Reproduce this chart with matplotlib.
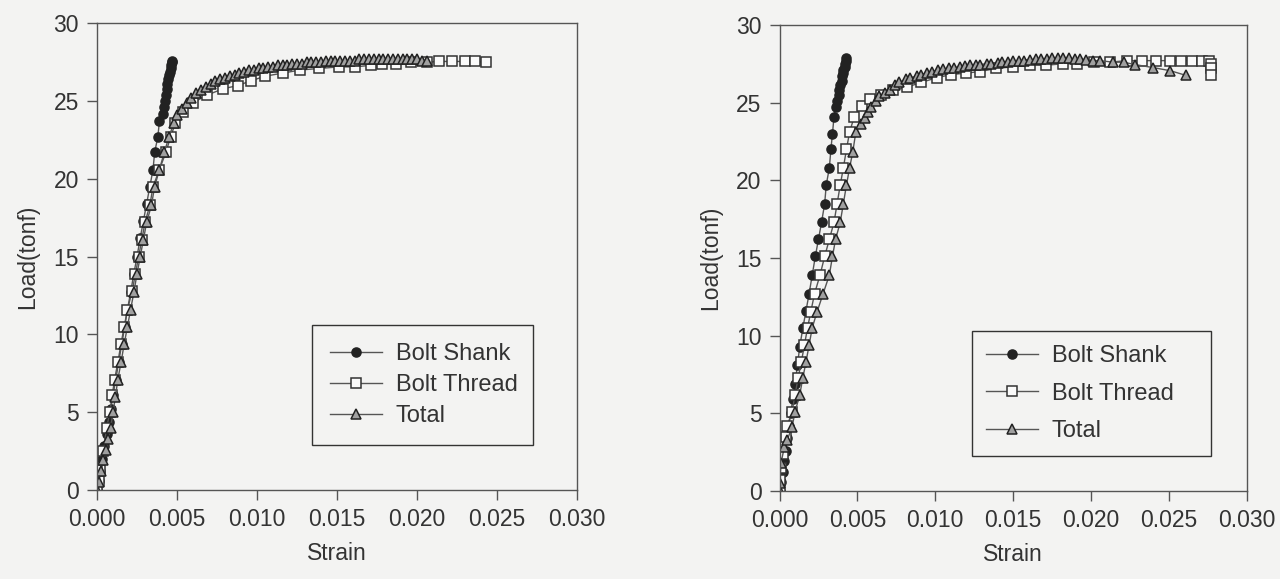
import matplotlib.pyplot as plt
from matplotlib.ticker import FormatStrFormatter


# -----------------------------
# DATA
# -----------------------------

# left panel
left_shank_strain = [0, 0.0001, 0.0002, 0.00033, 0.00046, 0.0006, 0.00073, 0.00086, 0.001, 0.00117,
                     0.00135, 0.00155, 0.00173, 0.0019, 0.0021, 0.0023, 0.0025, 0.0027, 0.0029, 0.0031,
                     0.0033, 0.0035, 0.0036, 0.0038, 0.0039, 0.0041, 0.0042, 0.00425, 0.0043, 0.00435,
                     0.0044, 0.00445, 0.0045, 0.00455, 0.0046, 0.00465, 0.0047, 0.0047]
left_shank_load = [0, 0.6, 1.2, 2.0, 2.8, 3.6, 4.4, 5.2, 6.1, 7.1,
                   8.2, 9.4, 10.5, 11.6, 12.7, 13.9, 15.0, 16.2, 17.3, 18.4,
                   19.5, 20.6, 21.7, 22.7, 23.7, 24.2, 24.6, 25.0, 25.4, 25.8,
                   26.1, 26.4, 26.7, 26.9, 27.1, 27.3, 27.5, 27.6]

left_thread_strain = [0, 0.0001, 0.0002, 0.0004, 0.0006, 0.0008, 0.00095, 0.0011, 0.0013, 0.0015,
                      0.0017, 0.0019, 0.0022, 0.0024, 0.0026, 0.0028, 0.003, 0.0033, 0.0035, 0.0039,
                      0.0043, 0.0046, 0.0049, 0.0054, 0.006, 0.0069, 0.0079, 0.0088, 0.0096, 0.0105,
                      0.0116, 0.0127, 0.0139, 0.0151, 0.0161, 0.0171, 0.0178, 0.0187, 0.0196, 0.0206,
                      0.0214, 0.0222, 0.023, 0.0236, 0.0243]
left_thread_load = [0, 0.6, 1.3, 2.5, 4.0, 5.0, 6.1, 7.1, 8.2, 9.4,
                    10.5, 11.6, 12.8, 13.9, 15.0, 16.1, 17.2, 18.3, 19.5, 20.6,
                    21.7, 22.7, 23.6, 24.3, 24.9, 25.4, 25.8, 26.0, 26.3, 26.6,
                    26.8, 27.0, 27.1, 27.2, 27.2, 27.3, 27.4, 27.4, 27.5, 27.5,
                    27.55, 27.55, 27.55, 27.55, 27.5]

left_total_strain = [0, 0.0001, 0.00025, 0.0004, 0.00055, 0.0007, 0.00085, 0.001, 0.00115, 0.0013,
                     0.0015, 0.0017, 0.0019, 0.0021, 0.0023, 0.0025, 0.0027, 0.0029, 0.0031, 0.0034,
                     0.0036, 0.0039, 0.0042, 0.0045, 0.0048, 0.005, 0.0053, 0.0056, 0.0059, 0.0062,
                     0.0065, 0.0068, 0.0071, 0.0074, 0.0077, 0.008, 0.0083, 0.0086, 0.0089, 0.0092,
                     0.0095, 0.0098, 0.0101, 0.0104, 0.0107, 0.011, 0.0113, 0.0116, 0.0119, 0.0122,
                     0.0125, 0.0128, 0.0131, 0.0134, 0.0137, 0.014, 0.0143, 0.0146, 0.0149, 0.0152,
                     0.0155, 0.0158, 0.0161, 0.0164, 0.0167, 0.017, 0.0173, 0.0176, 0.0179, 0.0182,
                     0.0185, 0.0188, 0.0191, 0.0194, 0.0197, 0.02, 0.0203, 0.0206]
left_total_load = [0, 0.5, 1.2, 1.9, 2.6, 3.3, 4.0, 5.0, 6.0, 7.1,
                   8.2, 9.4, 10.5, 11.6, 12.7, 13.9, 15.0, 16.1, 17.2, 18.3,
                   19.5, 20.6, 21.7, 22.7, 23.6, 24.1, 24.5, 24.9, 25.2, 25.5,
                   25.7, 25.9, 26.1, 26.3, 26.4, 26.5, 26.6, 26.7, 26.8, 26.9,
                   27.0, 27.0, 27.1, 27.1, 27.2, 27.2, 27.3, 27.3, 27.3, 27.4,
                   27.4, 27.4, 27.5, 27.5, 27.5, 27.5, 27.6, 27.6, 27.6, 27.6,
                   27.6, 27.6, 27.6, 27.7, 27.7, 27.7, 27.7, 27.7, 27.7, 27.7,
                   27.7, 27.7, 27.7, 27.7, 27.7, 27.7, 27.6, 27.6]

# right panel
right_shank_strain = [0, 0.0001, 0.0002, 0.0003, 0.0004, 0.0005, 0.0006, 0.00072, 0.00085, 0.001,
                      0.00115, 0.0013, 0.0015, 0.0017, 0.0019, 0.0021, 0.0023, 0.0025, 0.0027, 0.0029,
                      0.003, 0.0032, 0.0033, 0.0034, 0.0035, 0.0036, 0.0037, 0.0038, 0.0038, 0.0039,
                      0.004, 0.004, 0.0041, 0.0041, 0.0042, 0.0042, 0.0043, 0.0043]
right_shank_load = [0, 0.6, 1.2, 1.9, 2.6, 3.4, 4.2, 5.0, 5.9, 6.9,
                    8.1, 9.3, 10.5, 11.6, 12.7, 13.9, 15.1, 16.2, 17.3, 18.5,
                    19.7, 20.8, 22.0, 23.0, 24.1, 24.7, 25.1, 25.5, 25.8, 26.1,
                    26.4, 26.7, 26.9, 27.1, 27.3, 27.5, 27.7, 27.9]

right_thread_strain = [0, 0, 0.0001, 0.0002, 0.0004, 0.0005, 0.0008, 0.001, 0.0012, 0.0014,
                       0.0016, 0.0018, 0.002, 0.00225, 0.0026, 0.0029, 0.0032, 0.0035, 0.0037, 0.0039,
                       0.0041, 0.0043, 0.0045, 0.0048, 0.0053, 0.0058, 0.0065, 0.0073, 0.0082, 0.0091,
                       0.0101, 0.011, 0.012, 0.0129, 0.0139, 0.015, 0.0161, 0.0171, 0.0182, 0.0191,
                       0.0202, 0.0212, 0.0223, 0.0233, 0.0242, 0.0251, 0.0258, 0.0265, 0.0271, 0.0276,
                       0.0277, 0.0277, 0.0277]
right_thread_load = [0, 0.7, 1.5, 2.4, 3.5, 4.2, 5.1, 6.2, 7.3, 8.3,
                     9.4, 10.5, 11.5, 12.7, 13.9, 15.1, 16.2, 17.3, 18.5, 19.7,
                     20.8, 22.0, 23.1, 24.1, 24.8, 25.2, 25.5, 25.8, 26.0, 26.3,
                     26.6, 26.8, 26.9, 27.0, 27.2, 27.3, 27.4, 27.4, 27.5, 27.5,
                     27.6, 27.6, 27.7, 27.7, 27.7, 27.7, 27.7, 27.7, 27.7, 27.7,
                     27.5, 27.2, 26.8]

right_total_strain = [0, 0, 0.0001, 0.0003, 0.0005, 0.0008, 0.001, 0.0013, 0.0015, 0.0017,
                      0.0019, 0.0021, 0.0024, 0.0028, 0.0032, 0.0034, 0.0036, 0.0039, 0.0041, 0.0043,
                      0.0045, 0.0047, 0.0049, 0.0052, 0.0055, 0.0057, 0.0059, 0.0062, 0.0064, 0.0068,
                      0.0071, 0.0074, 0.0077, 0.0081, 0.0084, 0.0088, 0.0091, 0.0095, 0.0098, 0.0102,
                      0.0105, 0.0109, 0.0112, 0.0116, 0.0119, 0.0122, 0.0126, 0.0129, 0.0133, 0.0136,
                      0.014, 0.0143, 0.0147, 0.015, 0.0154, 0.0157, 0.0161, 0.0165, 0.0168, 0.0172,
                      0.0175, 0.0179, 0.0182, 0.0186, 0.019, 0.0193, 0.0197, 0.0201, 0.0206, 0.0214,
                      0.0221, 0.0228, 0.024, 0.0251, 0.0261]
right_total_load = [0, 0.5, 1.8, 2.8, 3.3, 4.1, 5.1, 6.2, 7.3, 8.3,
                    9.4, 10.5, 11.5, 12.7, 13.9, 15.1, 16.2, 17.3, 18.5, 19.7,
                    20.8, 21.8, 23.1, 23.6, 24.0, 24.4, 24.7, 25.1, 25.4, 25.6,
                    25.8, 26.1, 26.3, 26.5, 26.6, 26.7, 26.8, 26.9, 27.0, 27.1,
                    27.15, 27.2, 27.25, 27.3, 27.35, 27.4, 27.4, 27.45, 27.5, 27.5,
                    27.55, 27.6, 27.6, 27.65, 27.7, 27.7, 27.75, 27.8, 27.8, 27.8,
                    27.85, 27.85, 27.85, 27.85, 27.8, 27.8, 27.75, 27.7, 27.7, 27.6,
                    27.6, 27.45, 27.25, 27.05, 26.75]

series_labels = ["Bolt Shank", "Bolt Thread", "Total"]
x_ticks = [0.0, 0.005, 0.010, 0.015, 0.020, 0.025, 0.030]
y_ticks = [0, 5, 10, 15, 20, 25, 30]


# -----------------------------
# STYLE
# -----------------------------

plt.rcParams['font.family'] = ['Liberation Sans', 'DejaVu Sans']
plt.rcParams['font.size'] = 16.5

BG = '#f3f3f2'
INK = '#333333'

styles = [
    dict(marker='o', markersize=6.5, markerfacecolor='#222222', markeredgecolor='#222222'),
    dict(marker='s', markersize=6.5, markerfacecolor='#fafafa', markeredgecolor='#333333'),
    dict(marker='^', markersize=6.5, markerfacecolor='#a0a0a0', markeredgecolor='#222222'),
]


def draw_panel(ax, data, legend_box, spacing, pad):
    for (xs, ys), label, st in zip(data, series_labels, styles):
        ax.plot(xs, ys, color='#555555', linewidth=1.0, markeredgewidth=1.1,
                label=label, **st)

    ax.set_xlim(0, 0.030)
    ax.set_ylim(0, 30)
    ax.set_xticks(x_ticks)
    ax.set_yticks(y_ticks)
    ax.xaxis.set_major_formatter(FormatStrFormatter('%.3f'))
    ax.set_xlabel("Strain", color=INK, labelpad=8)
    ax.set_ylabel("Load(tonf)", color=INK, labelpad=10)
    ax.set_facecolor(BG)
    ax.tick_params(direction='out', length=7, width=1, colors='#555555',
                   labelcolor=INK, pad=6)
    for s in ax.spines.values():
        s.set_color('#555555')
        s.set_linewidth(1.0)

    # legend box: (x0, width, top) in axes fraction, stretched to width
    x0, w, top = legend_box
    leg = ax.legend(loc='upper left', bbox_to_anchor=(x0, 0, w, top), mode='expand',
                    borderaxespad=0, fontsize=17,
                    frameon=True, fancybox=False, edgecolor='#333333',
                    facecolor=BG, framealpha=1, handlelength=2.2,
                    labelspacing=spacing, borderpad=pad, handletextpad=0.6)
    leg.get_frame().set_linewidth(1.0)
    for t in leg.get_texts():
        t.set_color(INK)


# -----------------------------
# FIGURE
# -----------------------------

fig = plt.figure(figsize=(12.8, 5.79), dpi=100, facecolor=BG)

ax1 = fig.add_axes([0.0758, 0.1537, 0.375, 0.806])
ax2 = fig.add_axes([0.609, 0.152, 0.365, 0.805])

draw_panel(ax1,
           [(left_shank_strain, left_shank_load),
            (left_thread_strain, left_thread_load),
            (left_total_strain, left_total_load)],
           (0.448, 0.460, 0.353), 0.38, 0.75)

draw_panel(ax2,
           [(right_shank_strain, right_shank_load),
            (right_thread_strain, right_thread_load),
            (right_total_strain, right_total_load)],
           (0.411, 0.512, 0.343), 0.65, 0.6)

fig.savefig("out.png", dpi=100, facecolor=BG)
